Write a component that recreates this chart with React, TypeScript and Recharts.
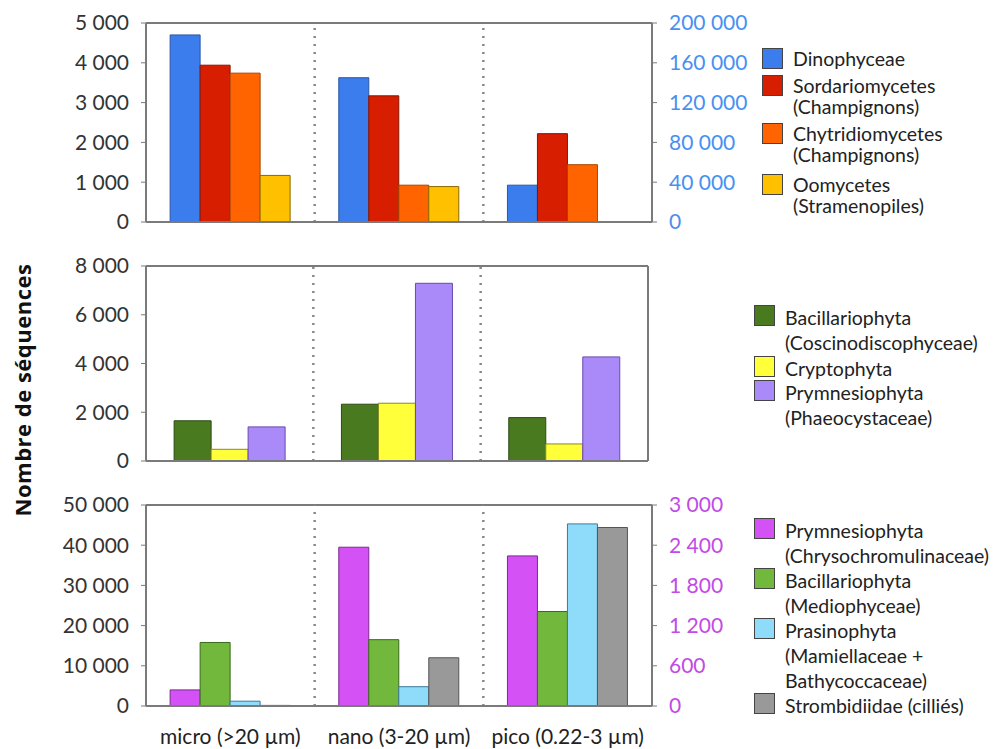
import React from 'react';
import { BarChart, Bar, XAxis, YAxis, ReferenceLine } from 'recharts';

// size fractions
const sizes = ['micro (>20 µm)', 'nano (3-20 µm)', 'pico (0.22-3 µm)'];

// top panel (Dinophyceae on the right axis)
const dinophyceae = [188000, 145000, 37000];
const sordariomycetes = [3940, 3170, 2220];
const chytridiomycetes = [3740, 925, 1440];
const oomycetes = [1170, 890, 0];

// middle panel
const coscinodiscophyceae = [1650, 2330, 1780];
const cryptophyta = [480, 2370, 700];
const phaeocystaceae = [1400, 7290, 4270];

// bottom panel (Chrysochromulinaceae on the right axis)
const chrysochromulinaceae = [240, 2370, 2240];
const mediophyceae = [15800, 16500, 23500];
const prasinophyta = [1200, 4800, 45300];
const strombidiidae = [150, 12000, 44400];

const topLeftTicks = [0, 1000, 2000, 3000, 4000, 5000];
const topRightTicks = [0, 40000, 80000, 120000, 160000, 200000];
const midTicks = [0, 2000, 4000, 6000, 8000];
const botLeftTicks = [0, 10000, 20000, 30000, 40000, 50000];
const botRightTicks = [0, 600, 1200, 1800, 2400, 3000];

const topData = sizes.map((s, i) => ({
  size: s,
  dino: dinophyceae[i],
  sord: sordariomycetes[i],
  chyt: chytridiomycetes[i],
  oomy: oomycetes[i],
}));
const midData = sizes.map((s, i) => ({
  size: s,
  cosc: coscinodiscophyceae[i],
  cryp: cryptophyta[i],
  phae: phaeocystaceae[i],
}));
const botData = sizes.map((s, i) => ({
  size: s,
  chry: chrysochromulinaceae[i],
  medi: mediophyceae[i],
  pras: prasinophyta[i],
  stro: strombidiidae[i],
}));

const FONT = 'Lato, "Open Sans", sans-serif';
const AXIS = '#7a7a7a';
const fmt = (v: number) => String(v).replace(/\B(?=(\d{3})+(?!\d))/g, ' ');
const tickStyle = { fontSize: 21, fill: '#333', fontFamily: FONT };

const Dividers = () => (
  <>
    <ReferenceLine yAxisId="left" x={sizes[1]} position="start" stroke="#888" strokeWidth={2.5} strokeDasharray="2 6" />
    <ReferenceLine yAxisId="left" x={sizes[2]} position="start" stroke="#888" strokeWidth={2.5} strokeDasharray="2 6" />
  </>
);

type Entry = { color: string; lines: string[]; top: number };

const Legend = ({ entries, left, lineHeight }: { entries: Entry[]; left: number; lineHeight: number }) => (
  <>
    {entries.map((e, i) => (
      <div key={i} style={{ position: 'absolute', left, top: e.top, fontFamily: FONT, fontSize: 19.5, color: '#222' }}>
        <div style={{ position: 'absolute', left: 0, top: 0, width: 19, height: 19, background: e.color, border: '1px solid #444' }} />
        <div style={{ position: 'absolute', left: 31, top: 0, lineHeight: `${lineHeight}px`, whiteSpace: 'nowrap' }}>
          {e.lines.map((l, j) => (
            <div key={j}>{l}</div>
          ))}
        </div>
      </div>
    ))}
  </>
);

const topLegend: Entry[] = [
  { color: '#3b7ded', lines: ['Dinophyceae'], top: 48 },
  { color: '#d81e00', lines: ['Sordariomycetes', '(Champignons)'], top: 75 },
  { color: '#ff6400', lines: ['Chytridiomycetes', '(Champignons)'], top: 123 },
  { color: '#ffc000', lines: ['Oomycetes', '(Stramenopiles)'], top: 174 },
];
const midLegend: Entry[] = [
  { color: '#4a7a1f', lines: ['Bacillariophyta', '(Coscinodiscophyceae)'], top: 305 },
  { color: '#ffff3a', lines: ['Cryptophyta'], top: 356 },
  { color: '#a98af8', lines: ['Prymnesiophyta', '(Phaeocystaceae)'], top: 380 },
];
const botLegend: Entry[] = [
  { color: '#d452f5', lines: ['Prymnesiophyta', '(Chrysochromulinaceae)'], top: 518 },
  { color: '#72b83c', lines: ['Bacillariophyta', '(Mediophyceae)'], top: 568 },
  { color: '#8fdcfa', lines: ['Prasinophyta', '(Mamiellaceae +', 'Bathycoccaceae)'], top: 618 },
  { color: '#999999', lines: ['Strombidiidae (cilliés)'], top: 693 },
];

export default function App() {
  return (
    <div style={{ position: 'absolute', left: 0, top: 0, width: 1000, height: 749, background: '#fff', overflow: 'hidden' }}>
      {/* top panel */}
      <div style={{ position: 'absolute', left: 0, top: 0 }}>
        <BarChart width={1000} height={240} data={topData} margin={{ top: 23, right: 288, bottom: 13, left: 0 }}
          barCategoryGap="14.3%" barGap={0}>
          <XAxis dataKey="size" tick={false} tickLine={false} height={5} axisLine={{ stroke: AXIS, strokeWidth: 2 }} />
          <YAxis yAxisId="left" width={146} domain={[0, 5000]} ticks={topLeftTicks} tickFormatter={fmt}
            tick={tickStyle} tickSize={5} tickMargin={12} interval={0}
            axisLine={{ stroke: AXIS, strokeWidth: 2 }} tickLine={{ stroke: AXIS }} />
          <YAxis yAxisId="right" orientation="right" width={60} domain={[0, 200000]} ticks={topRightTicks}
            tickFormatter={fmt} tick={{ ...tickStyle, fill: '#4a8ff0' }} tickSize={5} tickMargin={12} interval={0}
            axisLine={{ stroke: AXIS, strokeWidth: 2 }} tickLine={{ stroke: AXIS }} />
          <ReferenceLine yAxisId="left" y={5000} stroke={AXIS} strokeWidth={2} />
          <Dividers />
          <Bar yAxisId="right" dataKey="dino" fill="#3b7ded" stroke="#2b55a8" isAnimationActive={false} />
          <Bar yAxisId="left" dataKey="sord" fill="#d81e00" stroke="#8a1400" isAnimationActive={false} />
          <Bar yAxisId="left" dataKey="chyt" fill="#ff6400" stroke="#a84400" isAnimationActive={false} />
          <Bar yAxisId="left" dataKey="oomy" fill="#ffc000" stroke="#8a6a00" isAnimationActive={false} />
        </BarChart>
      </div>

      {/* middle panel */}
      <div style={{ position: 'absolute', left: 0, top: 240 }}>
        <BarChart width={1000} height={240} data={midData} margin={{ top: 26, right: 342, bottom: 14, left: 0 }}
          barCategoryGap="16.8%" barGap={0}>
          <XAxis dataKey="size" tick={false} tickLine={false} height={5} axisLine={{ stroke: AXIS, strokeWidth: 2 }} />
          <YAxis yAxisId="left" width={146} domain={[0, 8000]} ticks={midTicks} tickFormatter={fmt}
            tick={tickStyle} tickSize={5} tickMargin={12} interval={0}
            axisLine={{ stroke: AXIS, strokeWidth: 2 }} tickLine={{ stroke: AXIS }} />
          <YAxis yAxisId="right" orientation="right" width={10} domain={[0, 8000]} tick={false} tickLine={false}
            axisLine={{ stroke: AXIS, strokeWidth: 2 }} />
          <ReferenceLine yAxisId="left" y={8000} stroke={AXIS} strokeWidth={2} />
          <Dividers />
          <Bar yAxisId="left" dataKey="cosc" fill="#4a7a1f" stroke="#2c4a12" isAnimationActive={false} />
          <Bar yAxisId="left" dataKey="cryp" fill="#ffff3a" stroke="#8a8a20" isAnimationActive={false} />
          <Bar yAxisId="left" dataKey="phae" fill="#a98af8" stroke="#6a4ab0" isAnimationActive={false} />
        </BarChart>
      </div>

      {/* bottom panel */}
      <div style={{ position: 'absolute', left: 0, top: 480 }}>
        <BarChart width={1000} height={269} data={botData} margin={{ top: 25, right: 288, bottom: 5, left: 0 }}
          barCategoryGap="14.3%" barGap={0}>
          <XAxis dataKey="size" tickLine={false} height={38} tickSize={0} tickMargin={23} interval={0}
            tick={{ fontSize: 21, fill: '#222', fontFamily: FONT }} axisLine={{ stroke: AXIS, strokeWidth: 2 }} />
          <YAxis yAxisId="left" width={146} domain={[0, 50000]} ticks={botLeftTicks} tickFormatter={fmt}
            tick={tickStyle} tickSize={5} tickMargin={12} interval={0}
            axisLine={{ stroke: AXIS, strokeWidth: 2 }} tickLine={{ stroke: AXIS }} />
          <YAxis yAxisId="right" orientation="right" width={60} domain={[0, 3000]} ticks={botRightTicks}
            tickFormatter={fmt} tick={{ ...tickStyle, fill: '#c24ae6' }} tickSize={5} tickMargin={12} interval={0}
            axisLine={{ stroke: AXIS, strokeWidth: 2 }} tickLine={{ stroke: AXIS }} />
          <ReferenceLine yAxisId="left" y={50000} stroke={AXIS} strokeWidth={2} />
          <Dividers />
          <Bar yAxisId="right" dataKey="chry" fill="#d452f5" stroke="#7a2a90" isAnimationActive={false} />
          <Bar yAxisId="left" dataKey="medi" fill="#72b83c" stroke="#3a6a1a" isAnimationActive={false} />
          <Bar yAxisId="left" dataKey="pras" fill="#8fdcfa" stroke="#3a7a9a" isAnimationActive={false} />
          <Bar yAxisId="left" dataKey="stro" fill="#999999" stroke="#555" isAnimationActive={false} />
        </BarChart>
      </div>

      <Legend entries={topLegend} left={762} lineHeight={21} />
      <Legend entries={midLegend} left={754} lineHeight={25} />
      <Legend entries={botLegend} left={754} lineHeight={25} />

      <div style={{
        position: 'absolute', left: 22, top: 390, transform: 'translate(-50%, -50%) rotate(-90deg)',
        fontFamily: '"Open Sans", sans-serif', fontWeight: 700, fontSize: 22, letterSpacing: 0.5,
        color: '#111', whiteSpace: 'nowrap',
      }}>
        Nombre de séquences
      </div>
    </div>
  );
}
